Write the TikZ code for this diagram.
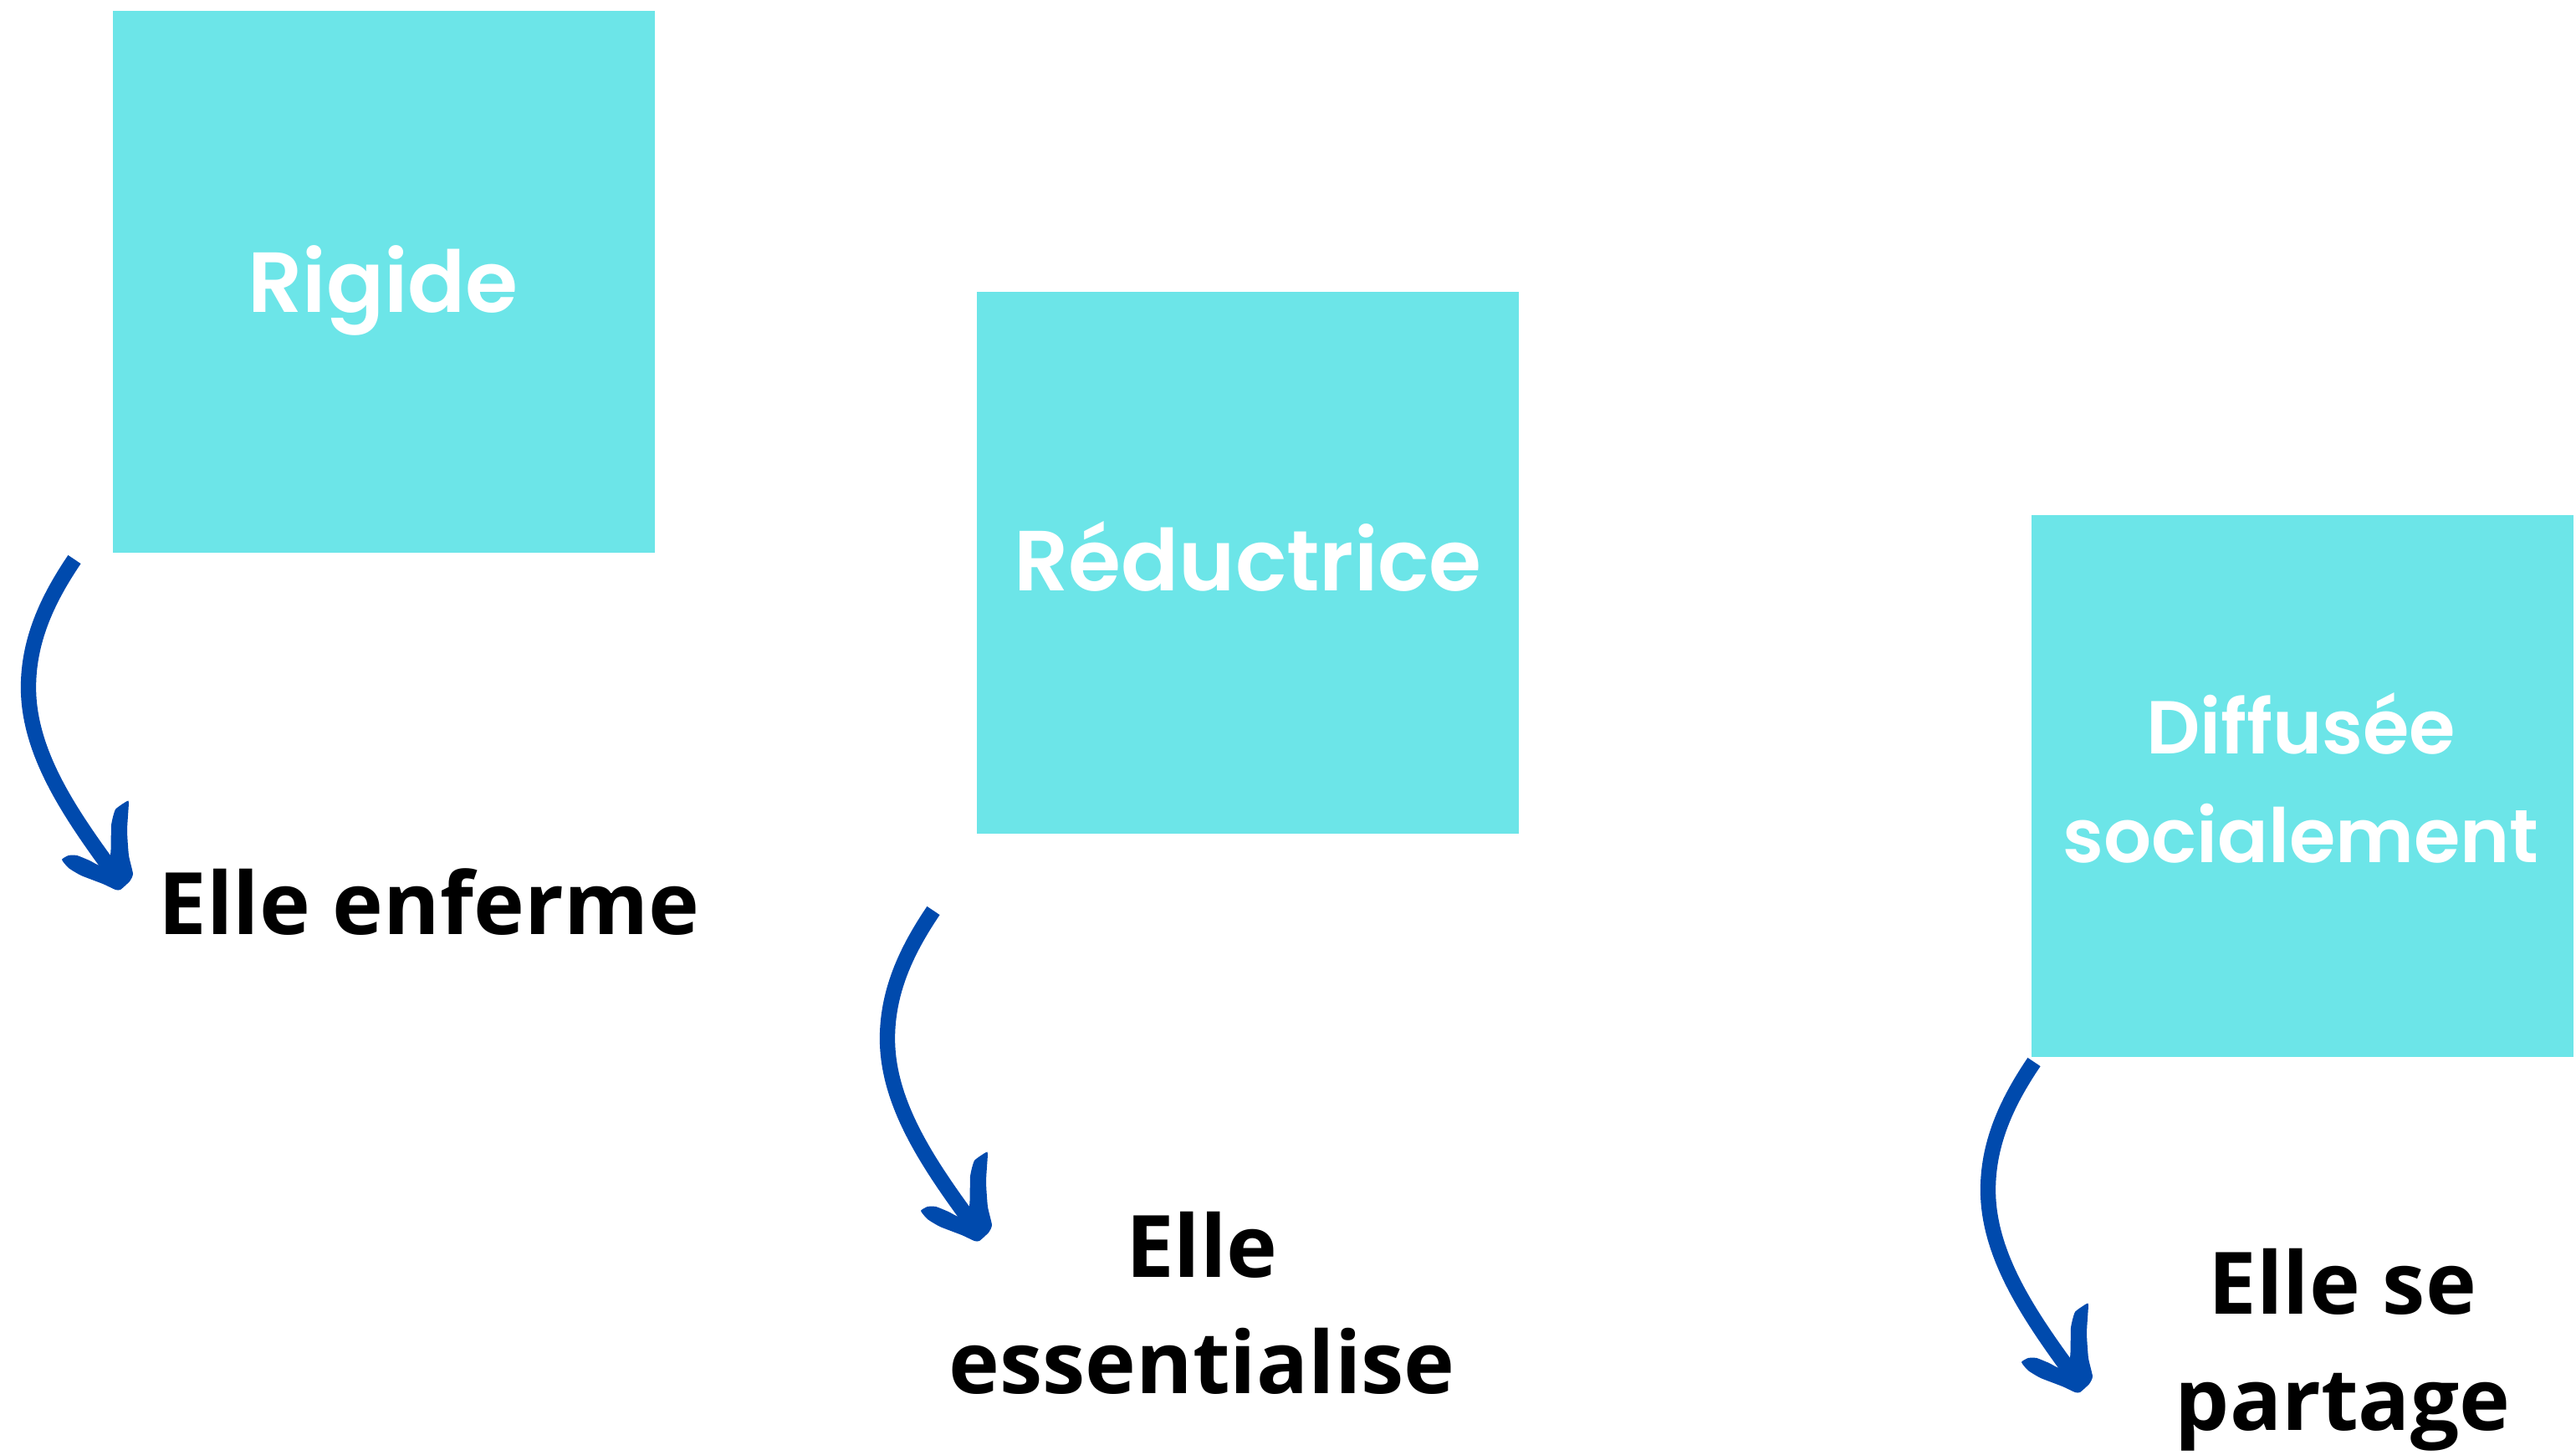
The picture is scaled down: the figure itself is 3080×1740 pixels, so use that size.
\documentclass[tikz,border=0pt]{standalone}
\usepackage{fontspec}
\newfontfamily\boxfont{Poppins SemiBold}
\newfontfamily\txtfont{Open Sans}
\definecolor{boxcyan}{HTML}{6CE5E8}
\definecolor{arrowblue}{HTML}{004AAD}
\tikzset{
  handarrow/.pic={
    \draw[arrowblue, line width=5.2pt, line cap=butt]
      (-1,2) .. controls (-30,45) and (-56,95) .. (-56,155)
             .. controls (-56,230) and (-10,300) .. (38,366);
    \fill[arrowblue] plot[smooth cycle, tension=0.3] coordinates {(-16,361) (-8,356) (2,356) (17,362) (30,368) (42,355) (43,320) (48,301) (62,291) (64,293) (62,326) (64,356) (69,378) (65,387) (54,397) (48,397) (33,390) (7,380) (-8,371)};
  }
}
\begin{document}
\begin{tikzpicture}[x=0.01cm,y=-0.01cm,
  sqbox/.style={fill=boxcyan, draw=none, minimum width=6.48cm, minimum height=6.48cm, inner sep=0pt, anchor=north west},
  boxlabel/.style={text=white, font=\boxfont\fontsize{29}{37}\selectfont, anchor=base, inner sep=0pt, align=center},
  boxlabelsm/.style={text=white, font=\boxfont\fontsize{25.5}{37}\selectfont, anchor=base, inner sep=0pt, align=center},
  blacktext/.style={text=black, font=\txtfont\bfseries\fontsize{29.3}{39.5}\selectfont, anchor=base, inner sep=0pt, align=center}
]
\useasboundingbox (0,0) rectangle (3080,1740);
% boxes
\node[sqbox] (b1) at (134,12) {};
\node[sqbox] (b2) at (1167,348) {};
\node[sqbox] (b3) at (2428,615) {};
% box labels (base = baseline of last line)
\node[boxlabel] (l1) at (458,374) {Rigide};
\node[boxlabel] (l2) at (1492,707) {Réductrice};
\node[boxlabelsm] (l3) at (2751,1032) {Diffusée\\socialement};
% consequences
\node[blacktext] (t1) at (513,1118) {Elle enferme};
\node[blacktext] (t2) at (1437,1666) {Elle\\essentialise};
\node[blacktext] (t3) at (2801,1710) {Elle se\\partage};
% hand-drawn arrows
\coordinate (a1) at (90,667);
\coordinate (a2) at (1117,1087);
\coordinate (a3) at (2433,1268);
\pic at (a1) {handarrow};
\pic at (a2) {handarrow};
\pic at (a3) {handarrow};
\end{tikzpicture}
\end{document}
